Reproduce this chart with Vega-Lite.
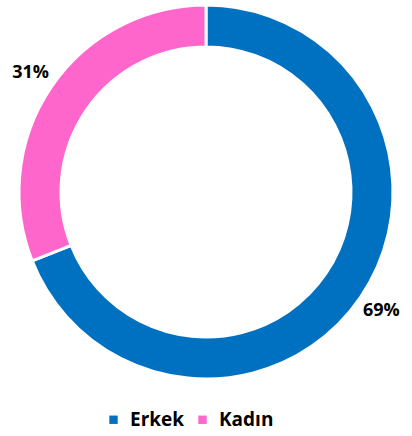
{
  "$schema": "https://vega.github.io/schema/vega-lite/v6.json",
  "width": 412,
  "height": 384,
  "padding": {"left": 0, "right": 0, "top": 0, "bottom": 52},
  "autosize": {"type": "none"},
  "background": "white",
  "data": {"values": [
    {"group": "Erkek", "value": 69, "label": "69%", "order": 1},
    {"group": "Kadın", "value": 31, "label": "31%", "order": 2}
  ]},
  "encoding": {
    "theta": {"field": "value", "type": "quantitative", "stack": true},
    "order": {"field": "order", "type": "quantitative"}
  },
  "layer": [
    {
      "mark": {"type": "arc", "outerRadius": 187, "innerRadius": 145, "stroke": "white", "strokeWidth": 3},
      "encoding": {
        "color": {
          "field": "group", "type": "nominal",
          "scale": {"domain": ["Erkek", "Kadın"], "range": ["#0070C0", "#FF66CC"]},
          "legend": {
            "title": null, "orient": "none", "direction": "horizontal",
            "legendX": 104, "legendY": 410,
            "symbolType": "square", "symbolSize": 70, "symbolStrokeWidth": 0,
            "labelFont": "Open Sans", "labelFontSize": 19, "labelFontWeight": "bold", "labelColor": "#000000",
            "labelOffset": 7, "columnPadding": 8
          }
        }
      }
    },
    {
      "mark": {"type": "text", "radius": 212, "font": "Open Sans", "fontSize": 18, "fontWeight": "bold", "color": "#000000"},
      "encoding": {"text": {"field": "label"}}
    }
  ]
}
